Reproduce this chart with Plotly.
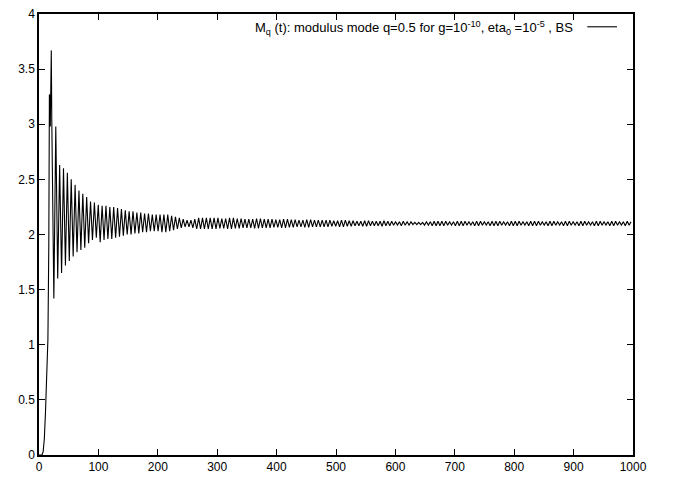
import plotly.graph_objects as go

# ---- data ----
# initial rise (time, value)
t_rise = [0, 5, 7, 9, 11, 13, 15, 16.5, 17.5, 18.0, 18.5, 19.0, 19.5, 20.0, 20.7, 21.5, 22.5]
y_rise = [0, 0, 0.03, 0.15, 0.4, 0.7, 1.05, 1.9, 3.27, 2.97, 3.25, 2.98, 3.27, 3.0, 3.67, 3.05, 2.5]

# oscillation extrema: troughs start at t=25, half period 3.25
T_START = 25.0
HALF_PERIOD = 3.25
troughs = [
    1.42, 1.60, 1.65, 1.72, 1.76, 1.80, 1.84, 1.86, 1.88, 1.92,
    1.95, 1.97, 1.93, 1.95, 1.96, 1.96, 1.97, 1.98, 1.99, 2.00,
    2.00, 2.01, 2.01, 2.02, 2.02, 2.03, 2.03, 2.03, 2.02, 2.02,
    2.03, 2.04, 2.05, 2.06, 2.07, 2.07, 2.06, 2.05, 2.05, 2.05,
    2.05, 2.05, 2.05, 2.055, 2.055, 2.05, 2.05, 2.055, 2.055, 2.06,
    2.06, 2.06, 2.055, 2.055, 2.06, 2.06, 2.06, 2.065, 2.065, 2.06,
    2.06, 2.065, 2.065, 2.07, 2.07, 2.065, 2.065, 2.07, 2.07, 2.07,
    2.07, 2.07, 2.075, 2.075, 2.07, 2.07, 2.075, 2.075, 2.08, 2.08,
    2.075, 2.075, 2.08, 2.08, 2.08, 2.075, 2.08, 2.08, 2.085, 2.085,
    2.08, 2.085, 2.085, 2.09, 2.09, 2.09, 2.085, 2.085, 2.08, 2.08,
    2.08, 2.08, 2.085, 2.085, 2.08, 2.08, 2.08, 2.085, 2.085, 2.08,
    2.08, 2.085, 2.085, 2.08, 2.08, 2.08, 2.085, 2.085, 2.08, 2.08,
    2.08, 2.085, 2.085, 2.08, 2.08, 2.08, 2.085, 2.085, 2.08, 2.08,
    2.085, 2.085, 2.08, 2.08, 2.085, 2.085, 2.08, 2.08, 2.085, 2.085,
    2.08, 2.08, 2.085, 2.085, 2.08, 2.08, 2.085, 2.085, 2.08, 2.085,
]
peaks = [
    2.98, 2.63, 2.60, 2.56, 2.50, 2.45, 2.40, 2.37, 2.34, 2.30,
    2.29, 2.27, 2.26, 2.26, 2.25, 2.25, 2.24, 2.23, 2.22, 2.21,
    2.21, 2.20, 2.20, 2.19, 2.19, 2.18, 2.18, 2.18, 2.18, 2.18,
    2.17, 2.16, 2.15, 2.14, 2.13, 2.13, 2.14, 2.15, 2.15, 2.15,
    2.15, 2.15, 2.15, 2.145, 2.145, 2.15, 2.15, 2.145, 2.145, 2.14,
    2.14, 2.14, 2.145, 2.145, 2.14, 2.14, 2.14, 2.135, 2.135, 2.14,
    2.14, 2.135, 2.135, 2.13, 2.13, 2.135, 2.135, 2.13, 2.13, 2.13,
    2.13, 2.13, 2.125, 2.125, 2.13, 2.13, 2.125, 2.125, 2.12, 2.12,
    2.125, 2.125, 2.12, 2.12, 2.12, 2.125, 2.12, 2.12, 2.115, 2.115,
    2.12, 2.115, 2.115, 2.11, 2.11, 2.11, 2.115, 2.115, 2.12, 2.12,
    2.12, 2.12, 2.115, 2.115, 2.12, 2.12, 2.12, 2.115, 2.115, 2.12,
    2.12, 2.115, 2.115, 2.12, 2.12, 2.12, 2.115, 2.115, 2.12, 2.12,
    2.12, 2.115, 2.115, 2.12, 2.12, 2.12, 2.115, 2.115, 2.12, 2.12,
    2.115, 2.115, 2.12, 2.12, 2.115, 2.115, 2.12, 2.12, 2.115, 2.115,
    2.12, 2.12, 2.115, 2.115, 2.12, 2.12, 2.115, 2.115, 2.12, 2.115,
]

x_ticks = [0, 100, 200, 300, 400, 500, 600, 700, 800, 900, 1000]
y_ticks = [0, 0.5, 1, 1.5, 2, 2.5, 3, 3.5, 4]
y_tick_text = ["0", "0.5", "1", "1.5", "2", "2.5", "3", "3.5", "4"]

legend_text = ("M<sub>q</sub> (t): modulus mode q=0.5 for g=10<sup>-10</sup>, "
               "eta<sub>0</sub> =10<sup>-5</sup> , BS")

# assemble series (interleave troughs and peaks on the sampling grid)
t_all = list(t_rise)
y_all = list(y_rise)
for k in range(len(troughs)):
    t_all.append(T_START + 2 * k * HALF_PERIOD)
    y_all.append(troughs[k])
    t_all.append(T_START + (2 * k + 1) * HALF_PERIOD)
    y_all.append(peaks[k])

FONT = "Liberation Sans, Arial, Helvetica, sans-serif"

fig = go.Figure()
fig.add_trace(go.Scatter(x=t_all, y=y_all, mode="lines",
                         line=dict(color="black", width=1.1), showlegend=False,
                         hoverinfo="skip"))

axis_common = dict(showline=True, linecolor="black", linewidth=1.5, mirror="allticks",
                   ticks="inside", ticklen=6, tickwidth=1.3, tickcolor="black",
                   showgrid=False, zeroline=False,
                   tickfont=dict(family=FONT, size=12, color="black"))

fig.update_xaxes(range=[0, 1000], tickvals=x_ticks, **axis_common)
fig.update_yaxes(range=[0, 4], tickvals=y_ticks, ticktext=y_tick_text, **axis_common)

fig.add_annotation(xref="paper", yref="paper", x=0.902, y=0.969, xanchor="right",
                   yanchor="middle", showarrow=False, text=legend_text,
                   font=dict(family=FONT, size=13, color="black"))
fig.add_shape(type="line", xref="paper", yref="paper", x0=0.923, x1=0.973,
              y0=0.971, y1=0.971, line=dict(color="black", width=1.1))

fig.update_layout(width=673, height=481, margin=dict(l=39, r=40, t=7, b=25),
                  plot_bgcolor="white", paper_bgcolor="white",
                  font=dict(family=FONT, size=12, color="black"))

fig.write_html("out.html")
